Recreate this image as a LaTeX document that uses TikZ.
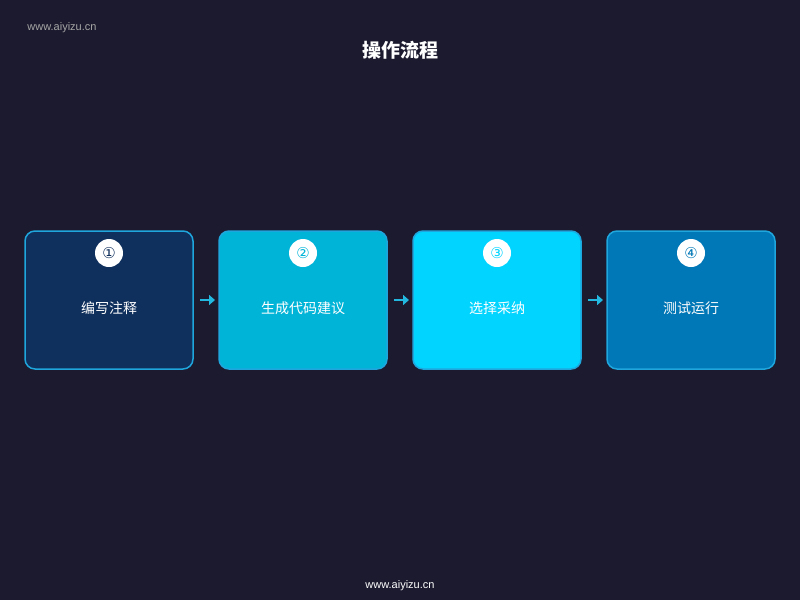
\documentclass[tikz,border=0pt]{standalone}
\usepackage{fontspec}
\setmainfont{Noto Sans CJK SC}
\newfontfamily\dv{DejaVu Sans}
\usetikzlibrary{arrows.meta}
\definecolor{bg}{HTML}{1B1A2E}
\definecolor{cA}{HTML}{0F2F5C}
\definecolor{cB}{HTML}{00B4D8}
\definecolor{cC}{HTML}{00D4FF}
\definecolor{cD}{HTML}{0077B6}
\definecolor{edge}{HTML}{1FA6DD}
\definecolor{arr}{HTML}{22B8E0}
\tikzset{stepbox/.style={rounded corners=10pt, draw=edge, line width=1.5pt},
 numc/.style={circle, fill=white, minimum size=28pt, inner sep=0pt, font=\dv\fontsize{15}{15}\selectfont},
 lbl/.style={text=white, font=\fontsize{14}{14}\selectfont},
 conn/.style={arr, line width=2.6pt, -{Triangle[length=6pt,width=10pt]}}}
\begin{document}
\begin{tikzpicture}[x=1pt,y=-1pt]
\fill[bg] (0,0) rectangle (800,600);
\useasboundingbox (0,0) rectangle (800,600);
\node[text=gray!70, font=\fontspec{Liberation Sans}\fontsize{11}{11}\selectfont] (wm) at (62,28) {www.aiyizu.cn};
\node[text=white, font=\bfseries\fontsize{19}{19}\selectfont] (title) at (400,50) {操作流程};
\node[text=white, font=\fontspec{Liberation Sans}\fontsize{11}{11}\selectfont] (foot) at (400,586) {www.aiyizu.cn};
\foreach \i/\x/\c/\n/\t in {1/25/cA/①/编写注释, 2/219/cB/②/生成代码建议, 3/413/cC/③/选择采纳, 4/607/cD/④/测试运行}{
  \path[stepbox, fill=\c] (\x,231) rectangle ++(168,138);
  \node[numc, text=\c] (n\i) at (\x+84,253) {\n};
  \node[lbl] (t\i) at (\x+84,308) {\t};
  \coordinate (L\i) at (\x,300);
  \coordinate (R\i) at (\x+168,300);
}
\draw[conn] ([xshift=7pt]R1) -- ([xshift=-4pt]L2);
\draw[conn] ([xshift=7pt]R2) -- ([xshift=-4pt]L3);
\draw[conn] ([xshift=7pt]R3) -- ([xshift=-4pt]L4);
\end{tikzpicture}
\end{document}
